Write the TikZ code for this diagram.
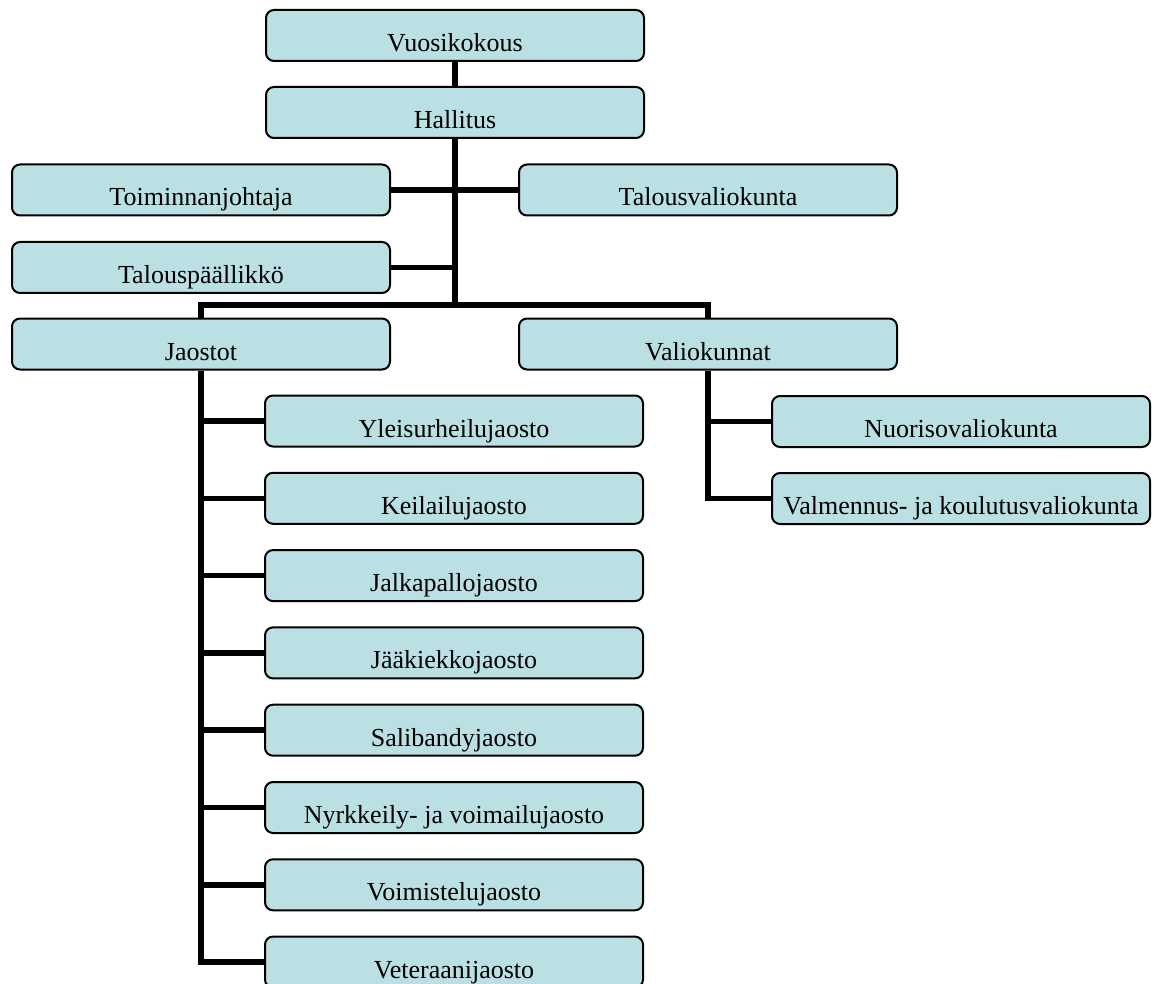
\documentclass[tikz,border=0pt]{standalone}
\usepackage{fontspec}
\setmainfont{Liberation Serif}
\definecolor{boxfill}{RGB}{186,224,227}
\begin{document}
\begin{tikzpicture}[x=1pt,y=-1pt,
  orgbox/.style={draw=black, line width=2pt, fill=boxfill, rounded corners=8pt,
    minimum width=378pt, minimum height=51pt, inner sep=0pt,
    text height=32pt, text depth=0pt, font=\fontsize{26}{30}\selectfont},
  conn/.style={line width=5.5pt, draw=black}]
\useasboundingbox (0,0) rectangle (1159,984);
\clip (0,0) rectangle (1159,984);
\fill[white] (0,0) rectangle (1159,984);
% nodes
\node[orgbox] (v)  at (455,35.5)  {Vuosikokous};
\node[orgbox] (h)  at (455,112.5) {Hallitus};
\node[orgbox] (tj) at (201,190)   {Toiminnanjohtaja};
\node[orgbox] (tv) at (708,190)   {Talousvaliokunta};
\node[orgbox] (tp) at (201,267.5) {Talouspäällikkö};
\node[orgbox] (ja) at (201,344)   {Jaostot};
\node[orgbox] (va) at (708,344)   {Valiokunnat};
\node[orgbox] (j1) at (454,421)   {Yleisurheilujaosto};
\node[orgbox] (j2) at (454,498.3) {Keilailujaosto};
\node[orgbox] (j3) at (454,575.6) {Jalkapallojaosto};
\node[orgbox] (j4) at (454,652.9) {Jääkiekkojaosto};
\node[orgbox] (j5) at (454,730.2) {Salibandyjaosto};
\node[orgbox] (j6) at (454,807.5) {Nyrkkeily- ja voimailujaosto};
\node[orgbox] (j7) at (454,884.8) {Voimistelujaosto};
\node[orgbox] (j8) at (454,962.1) {Veteraanijaosto};
\node[orgbox] (v1) at (961,421.5) {Nuorisovaliokunta};
\node[orgbox] (v2) at (961,498.5) {Valmennus- ja koulutusvaliokunta};
% connectors
\draw[conn] (v.south) -- (h.south |- v.south) -- (h.north);
\coordinate (hub) at (455,305);
\draw[conn] (h.south) -- (hub);
\draw[conn] (tj.east) -- (tv.west);
\draw[conn] (tp.east) -- (h.south |- tp.east);
\draw[conn] (ja.north) |- (hub);
\draw[conn] (va.north) |- (hub);
% Jaostot branches
\draw[conn] (ja.south) |- (j8.west);
\foreach \n in {j1,j2,j3,j4,j5,j6,j7}{
  \draw[conn] (ja.south |- \n.west) -- (\n.west);
}
% Valiokunnat branches
\draw[conn] (va.south) |- (v2.west);
\draw[conn] (va.south |- v1.west) -- (v1.west);
\end{tikzpicture}
\end{document}
